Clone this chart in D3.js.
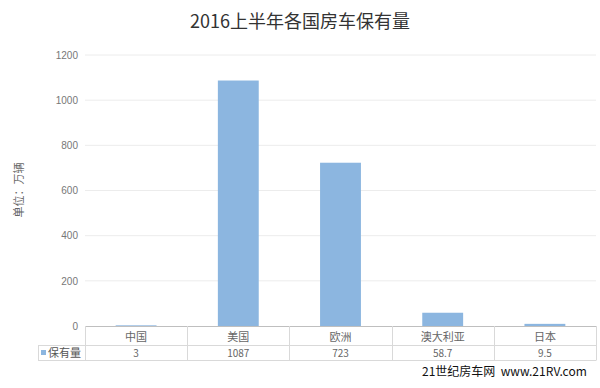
<!DOCTYPE html>
<html>
<head>
<meta charset="utf-8">
<script src="https://cdn.jsdelivr.net/npm/d3@7"></script>
<style>
	body { margin: 0; background: #fff; }
	svg { font-family: "Microsoft YaHei", "Noto Sans CJK SC", sans-serif; }
</style>
</head>
<body>
<svg id="chart" width="600" height="388"></svg>
<script>
// data
const countries = ["中国", "美国", "欧洲", "澳大利亚", "日本"];
const ownership = [3, 1087, 723, 58.7, 9.5];
const yTicks = [0, 200, 400, 600, 800, 1000, 1200];
const seriesName = "保有量";

const svg = d3.select("#chart");
const plotLeft = 85, plotRight = 596, plotTop = 55, plotBottom = 326;

let x = d3.scaleBand()
			.domain(countries)
			.range([plotLeft, plotRight])
			.paddingInner(0.6)
			.paddingOuter(0.3);
let xCol = d3.scaleBand()
			.domain(countries)
			.range([plotLeft, plotRight]);
let y = d3.scaleLinear()
			.domain([0, 1200])
			.range([plotBottom, plotTop]);

// title
svg.append("text")
	.attr("x", 300).attr("y", 28)
	.attr("text-anchor", "middle")
	.attr("font-size", 18)
	.attr("fill", "#333")
	.text("2016上半年各国房车保有量");

// grid
svg.append("g")
	.selectAll("line")
	.data(yTicks.filter(d => d > 0))
	.enter().append("line")
	.attr("x1", plotLeft).attr("x2", plotRight)
	.attr("y1", d => y(d)).attr("y2", d => y(d))
	.style("stroke", "#ececec");

// y axis labels
let yAxis = d3.axisLeft(y).tickValues(yTicks).tickFormat(d3.format("d")).tickSize(0).tickPadding(7);
let ya = svg.append("g")
	.attr("transform", `translate(${plotLeft},0)`)
	.call(yAxis);
ya.select(".domain").remove();
ya.selectAll("text").attr("font-size", 10).attr("fill", "#777")
	.style("font-family", "Arial, 'Liberation Sans', sans-serif");

svg.append("text")
	.attr("transform", "translate(23,190) rotate(-90)")
	.attr("text-anchor", "middle")
	.attr("font-size", 11)
	.attr("fill", "#666")
	.text("单位：万辆");

// bars
svg.append("g")
	.selectAll("rect")
	.data(countries)
	.enter().append("rect")
	.attr("x", d => x(d))
	.attr("width", x.bandwidth())
	.attr("y", (d, i) => y(ownership[i]))
	.attr("height", (d, i) => plotBottom - y(ownership[i]))
	.style("fill", "#8cb6e0");

// data table
let table = svg.append("g").style("stroke", "#d9d9d9").style("fill", "none");
table.append("line").attr("x1", plotLeft).attr("x2", plotRight).attr("y1", plotBottom + 0.5).attr("y2", plotBottom + 0.5).style("stroke", "#bfbfbf");
table.append("line").attr("x1", 38).attr("x2", plotRight).attr("y1", 345.5).attr("y2", 345.5);
table.append("line").attr("x1", 38).attr("x2", plotRight).attr("y1", 360.5).attr("y2", 360.5);
table.append("line").attr("x1", 38.5).attr("x2", 38.5).attr("y1", 345.5).attr("y2", 360.5);
let colEdges = countries.map(c => xCol(c)).concat([plotRight]);
table.selectAll(".col")
	.data(colEdges)
	.enter().append("line")
	.attr("x1", d => Math.round(d) + 0.5).attr("x2", d => Math.round(d) + 0.5)
	.attr("y1", plotBottom).attr("y2", 360.5);

let cells = svg.append("g")
	.attr("font-size", 11)
	.attr("fill", "#666")
	.attr("text-anchor", "middle");
cells.selectAll(".hd")
	.data(countries)
	.enter().append("text")
	.attr("x", d => xCol(d) + xCol.bandwidth() / 2)
	.attr("y", 341)
	.text(d => d);
cells.selectAll(".val")
	.data(ownership)
	.enter().append("text")
	.attr("x", (d, i) => xCol(countries[i]) + xCol.bandwidth() / 2)
	.attr("y", 357)
	.attr("font-size", 10)
	.text(d => d);

svg.append("rect")
	.attr("x", 41).attr("y", 350).attr("width", 5).attr("height", 5)
	.style("fill", "#8cb6e0");
svg.append("text")
	.attr("x", 48).attr("y", 357)
	.attr("font-size", 11)
	.attr("fill", "#555")
	.text(seriesName);

// watermark
svg.append("text")
	.attr("x", 422).attr("y", 376)
	.attr("font-size", 12)
	.attr("fill", "#111")
	.text("21世纪房车网 \u00a0www.21RV.com");
</script>
</body>
</html>
